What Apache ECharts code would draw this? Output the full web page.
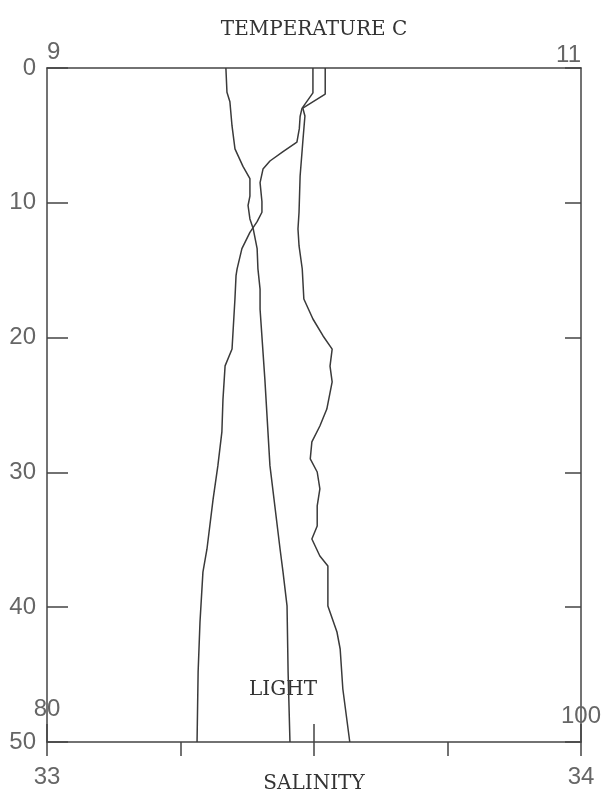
<!DOCTYPE html>
<html><head><meta charset="utf-8">
<script src="https://cdn.jsdelivr.net/npm/echarts@6/dist/echarts.min.js"></script>
<style>html,body{margin:0;padding:0;background:#fff}#c{width:603px;height:797px}</style>
</head><body><div id="c"></div>
<script>
// Depth (m) ticks
const depthTicks = [0, 10, 20, 30, 40, 50];
const tempTickLabels = ['9', '11'];
const salTickLabels = ['33', '34'];
const lightTickLabels = ['80', '100'];

// Temperature (C) profile
const tempValues = [9.996, 9.996, 9.955, 9.948, 9.945, 9.936, 9.884, 9.835, 9.809, 9.798, 9.805, 9.805, 9.787, 9.760, 9.730, 9.712, 9.708, 9.704, 9.693, 9.667, 9.659, 9.655, 9.640, 9.622, 9.599, 9.584, 9.573, 9.566, 9.562];
const tempDepths = [0, 1.85, 3.0, 3.6, 4.5, 5.5, 6.2, 6.9, 7.5, 8.5, 9.9, 10.7, 11.4, 12.2, 13.4, 14.9, 15.4, 17.1, 20.85, 22.1, 24.6, 27.0, 29.5, 32.0, 35.7, 37.4, 41.1, 44.8, 50];

// Salinity profile
const salValues = [33.521, 33.521, 33.479, 33.483, 33.479, 33.478, 33.474, 33.472, 33.470, 33.472, 33.478, 33.481, 33.498, 33.517, 33.534, 33.530, 33.534, 33.524, 33.511, 33.496, 33.493, 33.506, 33.511, 33.506, 33.506, 33.496, 33.511, 33.526, 33.526, 33.543, 33.549, 33.554, 33.567];
const salDepths = [0, 1.93, 2.97, 3.56, 5.49, 6.01, 8.01, 10.68, 11.94, 13.2, 14.91, 17.14, 18.62, 19.88, 20.85, 22.11, 23.29, 25.3, 26.56, 27.74, 29.0, 29.97, 31.23, 32.49, 33.98, 34.94, 36.2, 36.94, 39.91, 41.84, 43.1, 46.07, 50];

// Light profile
const lightValues = [86.70, 86.74, 86.85, 86.93, 87.04, 87.34, 87.60, 87.60, 87.53, 87.60, 87.72, 87.87, 87.90, 87.98, 87.98, 88.16, 88.35, 88.73, 88.84, 88.99, 89.03, 89.10];
const lightDepths = [0, 1.8, 2.5, 4.3, 6.0, 7.3, 8.2, 9.5, 10.2, 11.2, 11.9, 13.4, 14.9, 16.4, 17.9, 23.1, 29.5, 35.7, 37.4, 39.9, 44.8, 50];

const zip = (v, d) => v.map((x, i) => [x, d[i]]);
const lineColor = '#3a3a3a';
const axisColor = '#444';
const labelFont = { fontFamily: 'Liberation Sans', fontSize: 24, color: '#666' };
const nameFont = { fontFamily: 'DejaVu Serif', fontSize: 20, color: '#333' };
const gridRect = { left: 47, top: 68, right: 22, bottom: 55, containLabel: false, outerBoundsMode: 'none' };

const chart = echarts.init(document.getElementById('c'), null, { renderer: 'canvas' });
chart.setOption({
  backgroundColor: '#fff',
  animation: false,
  grid: [Object.assign({}, gridRect), Object.assign({}, gridRect)],
  xAxis: [
    { // temperature, top
      gridIndex: 0, type: 'value', position: 'top', min: 9, max: 11, interval: 2,
      axisLine: { show: true, onZero: false, lineStyle: { color: axisColor, width: 1.5 } },
      axisTick: { show: false }, splitLine: { show: false },
      axisLabel: Object.assign({ margin: 1, alignMinLabel: 'left', alignMaxLabel: 'right',
        formatter: v => (v === 9 ? '{a|' + tempTickLabels[0] + '}' : v === 11 ? tempTickLabels[1] : ''),
        rich: { a: Object.assign({ padding: [0, 0, 3, 0] }, labelFont) } }, labelFont),
      name: 'TEMPERATURE C', nameLocation: 'middle', nameGap: 28, nameMoveOverlap: false,
      nameTextStyle: nameFont
    },
    { // salinity, bottom
      gridIndex: 0, type: 'value', position: 'bottom', min: 33, max: 34, interval: 0.25,
      axisLine: { show: true, onZero: false, lineStyle: { color: axisColor, width: 1.5 } },
      axisTick: { show: true, inside: false, length: 14, lineStyle: { color: axisColor, width: 1.5 } },
      splitLine: { show: false },
      axisLabel: Object.assign({ margin: 23,
        formatter: v => (v === 33 ? salTickLabels[0] : v === 34 ? salTickLabels[1] : '') }, labelFont),
      name: 'SALINITY', nameLocation: 'middle', nameGap: 32, nameMoveOverlap: false,
      nameTextStyle: nameFont
    },
    { // light, bottom inside (second overlapping grid)
      gridIndex: 1, type: 'value', position: 'bottom', min: 80, max: 100, interval: 10,
      axisLine: { show: false, onZero: false },
      axisTick: { show: true, inside: true, length: 18, lineStyle: { color: axisColor, width: 1.5 } },
      splitLine: { show: false },
      axisLabel: Object.assign({ inside: true, margin: 14,
        formatter: v => (v === 80 ? '{a|' + lightTickLabels[0] + '}' : v === 100 ? lightTickLabels[1] : ''),
        rich: { a: Object.assign({ padding: [0, 0, 7, 0] }, labelFont) } }, labelFont),
      name: 'LIGHT', nameLocation: 'middle', nameGap: -62, nameMoveOverlap: false,
      nameTextStyle: Object.assign({ padding: [0, 62, 0, 0] }, nameFont)
    }
  ],
  yAxis: [
    {
      gridIndex: 0, type: 'value', position: 'left', inverse: true, min: 0, max: 50, interval: 10,
      axisLine: { show: true, onZero: false, lineStyle: { color: axisColor, width: 1.5 } },
      axisTick: { show: true, inside: true, length: 21, lineStyle: { color: axisColor, width: 1.5 } },
      splitLine: { show: false },
      axisLabel: Object.assign({ margin: 11, formatter: v => String(v) }, labelFont)
    },
    {
      gridIndex: 0, type: 'value', position: 'right', inverse: true, min: 0, max: 50, interval: 10,
      axisLine: { show: true, onZero: false, lineStyle: { color: axisColor, width: 1.5 } },
      axisTick: { show: true, inside: true, length: 16, lineStyle: { color: axisColor, width: 1.5 } },
      splitLine: { show: false },
      axisLabel: { show: false }
    },
    {
      gridIndex: 1, type: 'value', position: 'left', inverse: true, min: 0, max: 50, interval: 10,
      axisLine: { show: false, onZero: false }, axisTick: { show: false }, axisLabel: { show: false },
      splitLine: { show: false }
    }
  ],
  series: [
    { name: 'Temperature', type: 'line', xAxisIndex: 0, yAxisIndex: 0, data: zip(tempValues, tempDepths),
      showSymbol: false, lineStyle: { color: lineColor, width: 1.5 } },
    { name: 'Salinity', type: 'line', xAxisIndex: 1, yAxisIndex: 0, data: zip(salValues, salDepths),
      showSymbol: false, lineStyle: { color: lineColor, width: 1.5 } },
    { name: 'Light', type: 'line', xAxisIndex: 2, yAxisIndex: 2, data: zip(lightValues, lightDepths),
      showSymbol: false, lineStyle: { color: lineColor, width: 1.5 } }
  ]
});
</script>
</body></html>
